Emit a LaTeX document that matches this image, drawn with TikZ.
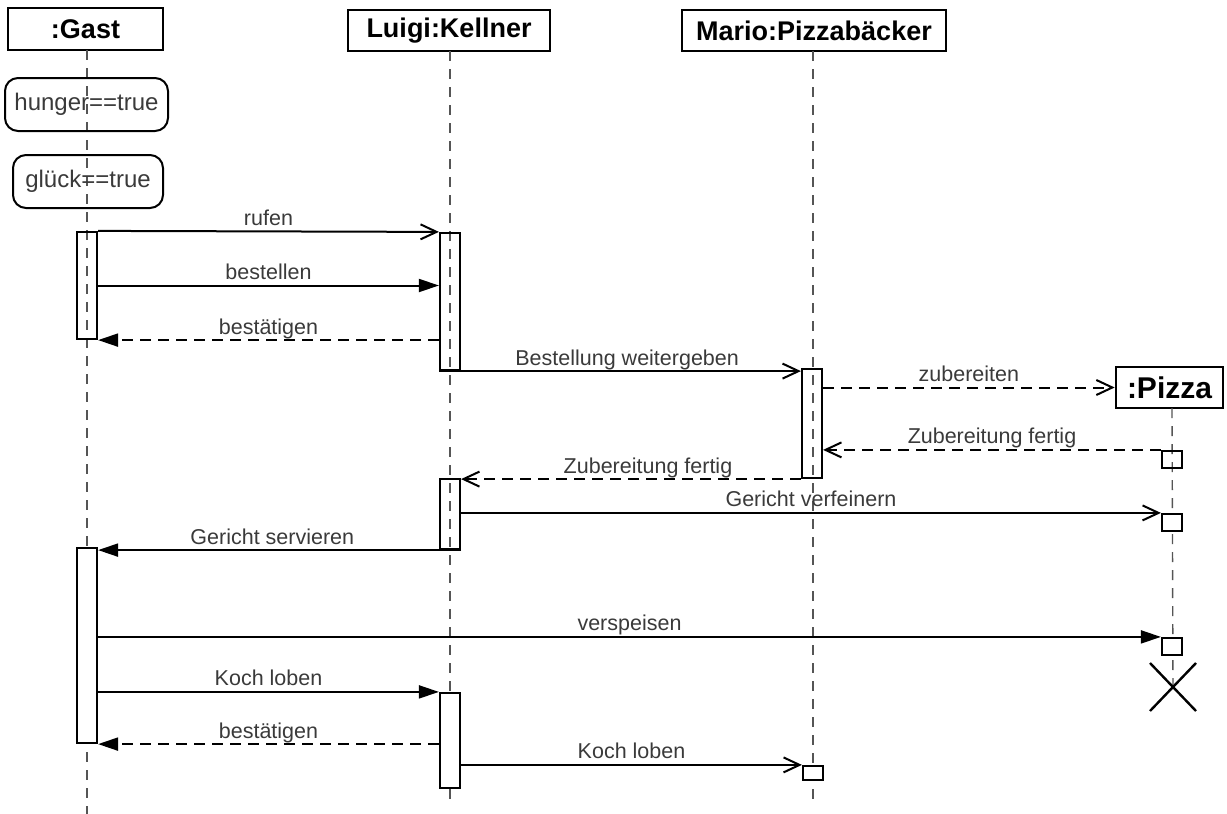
\documentclass[tikz,border=0pt]{standalone}
\usepackage{fontspec}
\setmainfont{Liberation Sans}
\usetikzlibrary{arrows.meta,calc}
\definecolor{txt}{HTML}{3A3A3A}
\definecolor{lifec}{HTML}{555555}
\tikzset{
  head/.style={draw, line width=2.6pt, inner sep=0pt, font=\fontsize{27}{31}\selectfont\bfseries},
  cond/.style={draw, line width=2pt, rounded corners=13pt, inner sep=0pt, text=txt, font=\fontsize{24}{28}\selectfont},
  act/.style={draw, line width=2.2pt, minimum width=20pt, inner sep=0pt},
  actw/.style={act, fill=white},
  lifeline/.style={draw=lifec, line width=1.4pt, dash pattern=on 10pt off 8pt},
  msg/.style={line width=2pt},
  sync/.style={msg, -{Triangle[length=20pt,width=13pt]}},
  async/.style={msg, -{Straight Barb[length=16pt,width=15pt,line width=2pt]}},
  reply/.style={msg, dash pattern=on 11pt off 7pt},
  lbl/.style={text=txt, font=\fontsize{21.5}{25}\selectfont, anchor=base, inner sep=0pt, yshift=6pt}
}
\begin{document}
\begin{tikzpicture}[x=1pt,y=-1pt]
\useasboundingbox (0,0) rectangle (1227,814);
% headers
\node[head, minimum width=155pt, minimum height=42pt] (g) at (85.5,29) {:Gast};
\node[head, minimum width=202pt, minimum height=41pt] (k) at (449,30.5) {Luigi:Kellner};
\node[head, minimum width=264pt, minimum height=41pt] (m) at (814,30.5) {Mario:Pizzab\"acker};
\node[head, minimum width=107pt, minimum height=41pt, font=\fontsize{30}{34}\selectfont\bfseries] (p) at (1169.5,387.5) {:Pizza};
% lifeline ends
\coordinate (gend) at (87,814);
\coordinate (kend) at (450,800);
\coordinate (mend) at (813,800);
\coordinate (pend) at (1173,687);
\draw[lifeline] (87,50) -- (gend);
\draw[lifeline] (450,51) -- (kend);
\draw[lifeline] (813,51) -- (mend);
\draw[lifeline] (1172,408) -- (pend);
% conditions
\node[cond, minimum width=163pt, minimum height=53pt] (c1) at (86.5,104.5) {hunger==true};
\node[cond, minimum width=150pt, minimum height=53pt] (c2) at (88,181.5) {gl\"uck==true};
% activations
\node[act, minimum height=107pt] (ga1) at (87,285.5) {};
\node[actw, minimum height=195pt] (ga2) at (87,645.5) {};
\node[act, minimum height=137pt] (ka1) at (450,301.5) {};
\node[act, minimum height=70pt] (ka2) at (450,514) {};
\node[actw, minimum height=95pt] (ka3) at (450,740.5) {};
\node[act, minimum height=109pt] (ma1) at (812,423.5) {};
\node[actw, minimum height=14pt] (mb) at (813,773) {};
\node[act, minimum height=17pt] (pb1) at (1172,459.5) {};
\node[actw, minimum height=17pt] (pb2) at (1172,522.5) {};
\node[actw, minimum height=17pt] (pb3) at (1172,646.5) {};
% destruction
\draw[line width=2.4pt] ($(pend)+(-23,-24)$) -- ($(pend)+(23,24)$);
\draw[line width=2.4pt] ($(pend)+(23,-24)$) -- ($(pend)+(-23,24)$);
% messages
\draw[async] (ga1.north east) -- node[lbl]{rufen} (ka1.north west);
\draw[sync] (ga1.east) -- node[lbl]{bestellen} (ga1.east -| ka1.west);
\draw[sync, reply] (ga1.south east -| ka1.west) -- node[lbl]{best\"atigen} (ga1.south east);
\draw[async] (ka1.south west) -- node[lbl, pos=0.52]{Bestellung weitergeben} (ka1.south west -| ma1.west);
\draw[async, reply] (p.west -| ma1.east) -- node[lbl]{zubereiten} (p.west);
\draw[async, reply] (pb1.north west) -- node[lbl]{Zubereitung fertig} (pb1.north west -| ma1.east);
\draw[async, reply] (ma1.south west) -- node[lbl, pos=0.45]{Zubereitung fertig} (ma1.south west -| ka2.east);
\draw[async] (pb2.north west -| ka2.east) -- node[lbl]{Gericht verfeinern} (pb2.north west);
\draw[sync] (ka2.south east) -- node[lbl, pos=0.52]{Gericht servieren} (ka2.south east -| ga2.east);
\draw[sync] (pb3.north west -| ga2.east) -- node[lbl]{verspeisen} (pb3.north west);
\draw[sync] (ka3.north west -| ga2.east) -- node[lbl]{Koch loben} (ka3.north west);
\draw[sync, reply] (ga2.south east -| ka3.west) -- node[lbl]{best\"atigen} (ga2.south east);
\draw[async] (mb.north west -| ka3.east) -- node[lbl]{Koch loben} (mb.north west);
\end{tikzpicture}
\end{document}
